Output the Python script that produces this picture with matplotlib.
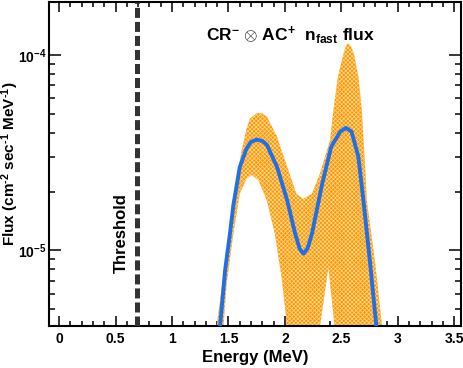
import numpy as np
import matplotlib
matplotlib.use("Agg")
import matplotlib.pyplot as plt
from matplotlib.ticker import FixedLocator, NullFormatter, LogLocator

plt.rcParams['font.family'] = ['Liberation Sans', 'DejaVu Sans']
plt.rcParams['font.weight'] = 'bold'
plt.rcParams['mathtext.fontset'] = 'custom'
plt.rcParams['mathtext.rm'] = 'Liberation Sans:bold'
plt.rcParams['mathtext.bf'] = 'Liberation Sans:bold'
plt.rcParams['mathtext.it'] = 'Liberation Sans:bold'
plt.rcParams['hatch.linewidth'] = 0.5
plt.rcParams['lines.scale_dashes'] = False

# upper edge of the uncertainty band
energy_upper = [1.38, 1.395, 1.44, 1.484, 1.52, 1.557, 1.617, 1.66, 1.69, 1.755, 1.80,
                1.84, 1.93, 2.02, 2.10, 2.16, 2.24, 2.31, 2.40, 2.43, 2.47, 2.52, 2.54,
                2.56, 2.58, 2.61, 2.65, 2.68, 2.71, 2.725, 2.80, 2.86, 2.875]
flux_upper = [1e-7, 4.07e-6, 6.4e-6, 1.0e-5, 1.41e-5, 2.03e-5, 3.26e-5, 4.17e-5, 4.73e-5,
              5.06e-5, 5.01e-5, 4.83e-5, 3.81e-5, 2.67e-5, 1.95e-5, 1.83e-5, 1.95e-5,
              2.47e-5, 3.66e-5, 5.25e-5, 7.76e-5, 1.02e-4, 1.11e-4, 1.15e-4, 1.12e-4,
              1.02e-4, 7.76e-5, 5.25e-5, 2.67e-5, 1.80e-5, 8.51e-6, 4.07e-6, 1e-7]

# lower edge of the band (1e-7 = below the axis)
energy_lower = [1.44, 1.455, 1.484, 1.543, 1.60, 1.66, 1.705, 1.765, 1.84, 1.91, 1.97,
                2.01, 2.025, 2.30, 2.31, 2.385, 2.44, 2.455, 2.86]
flux_lower = [1e-7, 4.07e-6, 6.76e-6, 1.22e-5, 1.95e-5, 2.33e-5, 2.43e-5, 2.29e-5,
              1.80e-5, 1.22e-5, 7.3e-6, 4.57e-6, 1e-7, 1e-7, 4.07e-6, 8.2e-6, 4.07e-6,
              1e-7, 1e-7]

# central value
energy_mean = [1.415, 1.425, 1.47, 1.513, 1.543, 1.60, 1.66, 1.70, 1.75, 1.80, 1.84,
               1.93, 2.02, 2.09, 2.13, 2.163, 2.20, 2.24, 2.33, 2.41, 2.49, 2.54, 2.59,
               2.65, 2.695, 2.755, 2.81, 2.825]
flux_mean = [2.5e-6, 4.07e-6, 7.9e-6, 1.22e-5, 1.70e-5, 2.67e-5, 3.32e-5, 3.59e-5,
             3.69e-5, 3.63e-5, 3.47e-5, 2.67e-5, 1.80e-5, 1.22e-5, 1.02e-5, 9.6e-6,
             1.02e-5, 1.22e-5, 2.19e-5, 3.39e-5, 4.05e-5, 4.24e-5, 4.05e-5, 3.02e-5,
             1.80e-5, 8.51e-6, 4.07e-6, 2.5e-6]

threshold = 0.69
x_ticks = [0, 0.5, 1, 1.5, 2, 2.5, 3, 3.5]

fig = plt.figure(figsize=(4.63, 3.68), dpi=100)
ax = fig.add_axes([0.1058, 0.1128, 0.89, 0.8818])

band_x = energy_upper + energy_lower[::-1]
band_y = flux_upper + flux_lower[::-1]
ax.fill(band_x, band_y, facecolor='#ff9800', edgecolor='#ffd898', hatch='xxxxxxxx', lw=0, zorder=2)
ax.plot(energy_mean, flux_mean, color='#1f6fe8', lw=2.8, zorder=3)
ax.axvline(threshold, color='#333333', lw=3.6, dashes=(7.2, 2.9), zorder=4)

ax.set_yscale('log')
ax.set_xlim(-0.09, 3.56)
ax.set_ylim(4.07e-6, 1.87e-4)

ax.xaxis.set_major_locator(FixedLocator(x_ticks))
ax.set_xticklabels([f'{v:g}' for v in x_ticks])
ax.xaxis.set_minor_locator(FixedLocator(np.arange(-0.0, 3.56, 0.1)))
ax.yaxis.set_major_locator(FixedLocator([1e-5, 1e-4]))
ax.set_yticklabels([r'$\mathbf{10^{-5}}$', r'$\mathbf{10^{-4}}$'])
ax.yaxis.set_minor_locator(LogLocator(subs=np.arange(2, 10)))
ax.yaxis.set_minor_formatter(NullFormatter())

ax.tick_params(which='both', direction='in', top=True, right=True, width=1.1)
ax.tick_params(axis='x', which='major', length=7.5, labelsize=10, pad=4)
ax.tick_params(axis='x', which='minor', length=3.8)
ax.tick_params(axis='y', which='major', length=8.5, labelsize=10, pad=2)
ax.tick_params(axis='y', which='minor', length=4)
for s in ax.spines.values():
    s.set_linewidth(1.5)

ax.set_xlabel('Energy (MeV)', fontsize=12, fontweight='bold', labelpad=3)
ax.set_ylabel(r'Flux (cm$^{\text{-}2}$ sec$^{\text{-}1}$ MeV$^{\text{-}1}$)', fontsize=11, fontweight='bold')
ax.yaxis.set_label_coords(-0.068, 0.5)

ax.text(0.547, 1.22e-5, 'Threshold', rotation=90, fontsize=12, fontweight='bold',
        ha='center', va='center')
ax.text(0.587, 0.898, r'CR$^{-}$ $\otimes$ AC$^{+}$  n$_{\mathrm{fast}}$ flux',
        transform=ax.transAxes, fontsize=12.5, fontweight='bold', ha='center', va='center')

fig.savefig('out.png', dpi=100)
